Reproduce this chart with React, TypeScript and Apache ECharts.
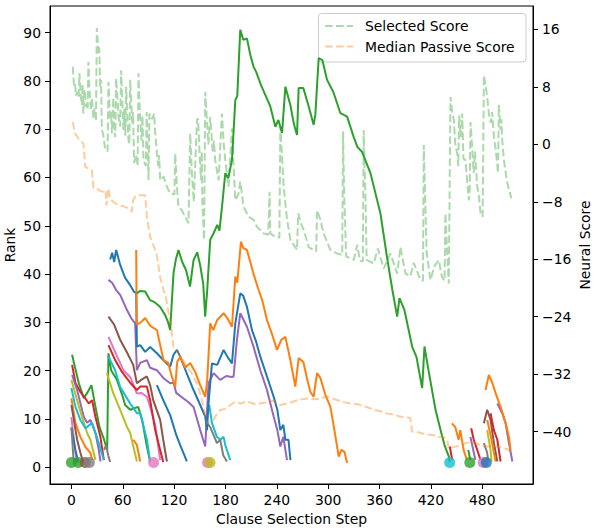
import React, { useEffect, useRef } from "react";
import * as echarts from "echarts";

// ---------- tick labels ----------
const xTicks = [0, 60, 120, 180, 240, 300, 360, 420, 480];
const rankTicks = [0, 10, 20, 30, 40, 50, 60, 70, 80, 90];
const scoreTicks = [-40, -32, -24, -16, -8, 0, 8, 16];

// ---------- neural score series (right axis) ----------
const selectedScore: number[][] = [
  [1.6, 10.8], [3, 8.2], [4.3, 8.5], [5.3, 6.8], [6.3, 7.3], [8.5, 6.5], [9.4, 9.9], [11, 6.6], [12.4, 5.5], [13, 8.4], [14, 4.3], [15, 7.6], [16, 7.0], [17, 5.2], [18, 5.7], [19, 5.0],
  [19.9, 11.5], [21, 8], [22.7, 4.8], [24, 6.5], [25.7, 3.6], [27, 5], [28.7, 3.2], [29.7, 16.2], [31.6, 12.7], [32.5, 13.5], [33.6, 8.0], [34.6, 9], [35.6, 2.0], [37, 1.5], [39.4, -0.6], [42.3, -1],
  [43.3, 8.7], [45.3, 3.4], [46.3, 4.5], [47.3, 1.5], [49, 6.5], [50, 2], [51.3, 1.0], [52.3, 9.2], [54, 6], [55, 3.8], [57, 2.5], [58.1, 10.3], [59.5, 6], [60.8, 2.0], [62, 5], [63, 1.2],
  [64, 8.0], [65.3, 4], [66.7, 0.6], [67.7, 0], [68.7, 9.0], [70, 5.5], [71, 3], [72, 4.5], [73.3, -2.6], [75.5, -1.5], [77.4, -3], [78.4, 9.9], [79.5, 6], [80.4, 3.4], [82, 0.5], [83, 4], [84.2, -2.2],
  [87, -3], [88, 4.5], [89, 0], [90.1, -5.0], [91.2, 4.3], [94, 3.5], [96.7, 4.3], [98, 1.5], [99.9, -1.3], [101.5, -3], [102.5, -1.5], [103.7, -5.0], [107.6, -4.5], [111.6, -5.9],
  [115.4, -6.8], [120.3, -7], [121.3, -1.3], [123.3, -5.9], [125.1, -8.7], [129.1, -9.2], [133, -10.1], [136.8, -11.0], [138.8, 1.5],
  [140.8, -4], [143, -8], [146.7, 3.4], [148, 3.6], [150, -2], [151.5, -5], [152.3, -1], [153, -8], [155, -13.3], [156.4, 7.3], [158, 4], [160, 0], [162.2, 3.8],
  [165, -1], [166.5, 0.5], [168, -2.2], [172, -5], [175.9, 4.3], [178, 0], [179.8, -2.2], [183.6, -5.9], [187.6, 2.2], [189.5, -3], [191.5, -7.8],
  [195, -7], [197.3, -5.2], [201.2, -8.7], [207, -10.1], [212.9, -10.5], [216.8, -11.5], [224.6, -12.4], [230, -12.6], [231.5, -6.6],
  [232.4, -12.4], [238.2, -12.9], [243, -13], [244.1, 2.5], [248, -5.9], [252, -10.5], [255.8, -13.3], [263.6, -14.7], [265, -9.6],
  [268, -11], [271.3, -11.9], [277.2, -14.3], [283, -14.7], [286, -14.9], [287, -9.2], [290.9, -10.5], [294.7, -12.4], [302.5, -14.7],
  [310.4, -15.2], [316.4, -15.4], [317.4, 1.8], [318.2, -4], [319, -8], [321, -15.6], [329.8, -16.1], [334, -14], [337, -16.2], [340.5, -16.3],
  [341.5, 2.0], [342.5, -3], [343.5, -7], [345, -16.1], [353.2, -16.6], [358, -14.5], [364.9, -17.3], [372.7, -15.2], [380.6, -18.0], [384.4, -14.3],
  [390.3, -18.0], [396.1, -18.4], [400, -16.5], [407.8, -18.9], [410.7, -19], [411.7, -0.1], [413, -6], [415, -15], [419.5, -18.9],
  [424, -17], [429.2, -16.1], [433, -18.5], [436, -19], [437, -9.6], [439, -15], [440.9, -19.4], [442.9, 6.6], [444.8, 4.5], [446.8, 3.4],
  [448.5, 0], [450.8, -1.3], [452, -3], [453, 4], [455, 1], [456.6, 4.3], [458, -2], [460.5, -2.2], [462, -4.5], [464.3, -7.8], [465.3, -6.6], [466.3, 3.1], [468, 0],
  [470, -4], [471.5, -1], [474.1, -5.9], [476, -7], [478, -9.6], [480.5, -10.1], [481.9, 9.6], [483.5, 8.5], [485.8, 6.6], [488, 4], [490, 3], [491.5, 4.5], [493.6, 1.1], [496, -1], [498.4, -4],
  [499.4, 5.5], [501.4, 2], [502.4, 3.5], [503.4, 0.5], [505.3, -2.2], [509.2, -5.4], [514, -7.5],
];

const medianPassive: number[][] = [
  [1.6, 3.1], [4.3, 1.5], [8.2, 0.8], [14, 0.1], [15.5, -2], [16, -3.1], [19, -3.3], [23.8, -3.6], [25, -5], [25.7, -6.1], [30, -6.2],
  [33.6, -6.5], [38, -6.6], [40, -6.4], [40.8, -8.5], [42, -7.5], [43.3, -6.1], [45, -7.5], [49, -8], [55, -8.5], [60, -8.6],
  [66.7, -8.9], [70.6, -9.4], [72, -7.8], [74.5, -7.3], [80, -7.1], [86.2, -7.1], [88.2, -10.1], [92, -12.9], [97.9, -14.7],
  [100, -15.6], [103.7, -18.5], [107.6, -20.3], [110, -21], [113.5, -23.5], [116, -25], [119.3, -28.2], [124, -29], [130, -30],
  [135, -31], [140, -31.8], [146.7, -33.3], [150, -34.5], [154.4, -36.5], [158.4, -38.9], [162, -38.6], [166, -38.4], [170, -37.5],
  [173.9, -37], [180, -36.8], [186, -36.3], [192, -35.8], [197.3, -36.1], [205, -35.8], [215, -36.2], [225, -36], [235, -35.7],
  [244, -36.3], [255, -36], [265, -35.6], [275, -35.4], [285, -35.5], [291, -35.4], [298.7, -35.1], [305, -35.4], [310, -35.6],
  [318, -35.9], [326, -36.1], [335, -36.2], [345, -36.6], [355, -37], [362, -37.2], [369, -37.5], [375, -37.6], [384, -37.9],
  [390, -38], [396, -38.1], [398, -40], [405, -40.1], [415, -40.4], [423, -40.5], [430, -40.8], [434, -40.7], [439, -41.2],
  [441, -42.4], [445, -42.2], [452, -42], [458, -41.7], [465, -41.5], [470, -41.6], [476, -41.8], [483, -42.1], [490, -42],
  [496, -42.1], [501, -42.1], [508, -42.4], [514, -42.8],
];

// ---------- rank series (left axis) ----------
const greenMain: number[][] = [
  [76.5, 36.0], [80, 36.5], [86.2, 36.4], [92, 34.6], [97, 34.2], [103.7, 33.2], [109.6, 31.5], [113, 30], [115.4, 28.4],
  [119.3, 40.2], [122, 43], [125.1, 45.0], [129.5, 42.5], [134, 40.8], [138.6, 37.4], [142.7, 42.9], [147, 44.5], [150.4, 41.9],
  [154, 38], [156.3, 31.2], [158.7, 36.7], [162.2, 47.1], [166, 48.4], [170.4, 50.2], [173, 49], [176, 54.0], [179.8, 60.9],
  [183.3, 59.9], [187.6, 63.6], [191.5, 76.0], [193.8, 76.9], [197.3, 90.6], [200.8, 88.5], [205.1, 88.8], [209, 85.4],
  [212.9, 82.9], [216, 81.8], [220.7, 79.5], [226.5, 77.1], [232.4, 74.7], [238.3, 70.5], [241.8, 71.9], [246.1, 69.2],
  [250, 78.8], [255.8, 75.0], [260, 71], [263.6, 68.8], [265.5, 78.5], [271, 78.5], [276.8, 75.0], [283, 70.9], [285, 73],
  [288.9, 84.7], [293.2, 84.3], [298.7, 80.2], [306, 77.7], [314.3, 73.3], [322.1, 72.6], [329.8, 68.4], [334.2, 66.3],
  [339.6, 65.3], [349.4, 60.9], [361, 52.6], [368.9, 43.3], [375, 36.7], [380.6, 31.2], [383.3, 35.0], [389, 32.6], [398.1, 25.0],
  [403.2, 22.8], [409.8, 16.4], [412.5, 25.0], [417.2, 20.1], [425.4, 11.9], [431.3, 7.7], [435.9, 4.6], [441, 2.2], [441.7, 1.1],
];
const greenLeft: number[][] = [
  [0.8, 23.3], [4.3, 20.6], [8.7, 17.4], [14.5, 14.3], [18.4, 15.4], [23.4, 17.0], [28.1, 12.5], [32.7, 8.4], [38.2, 5.7],
  [41.8, 3.6], [43.3, 23.6], [46.4, 20.1], [53.1, 18.1], [59.3, 15.0], [62.8, 12.9], [68.7, 11.9], [78, 12.5], [82.7, 9.8],
  [88.2, 4.3], [92, 1.2],
];
const blueMain: number[][] = [
  [45.3, 43.0], [47.6, 44.4], [50, 42.5], [52.3, 45.0], [57, 41.9], [62.8, 39.2], [68.7, 37.7], [73.3, 36.3], [75.7, 36.1],
  [76.5, 25.0], [80.4, 25.3], [86.2, 23.9], [92, 24.9], [99.9, 23.6], [107.3, 22.2], [115.4, 20.8], [119.3, 23.3], [123.3, 24.3],
  [127.1, 22.9], [134.2, 19.7], [142.7, 16.0], [150.5, 12.9], [156.4, 10.5], [158.4, 7.7], [160.2, 13.2], [164.2, 21.5],
  [170.4, 21.2], [177.8, 24.3], [183.3, 22.6], [187.6, 21.5], [191.5, 29.8], [197.3, 36.0], [200.8, 35.5], [205.1, 33.2],
  [211, 28.4], [216, 25.9], [220.7, 22.9], [228.5, 18.8], [236.3, 14.6], [240.6, 11.9], [244.1, 7.7], [247.6, 8.8], [250, 5.7],
  [253.6, 5.7], [255.9, 1.5],
];
const purpleMain: number[][] = [
  [43.3, 38.8], [47.6, 38.2], [52.3, 36.7], [57, 35.7], [64.8, 32.6], [69.8, 30.9], [74.5, 29.8], [76.5, 20.1], [80.4, 21.6],
  [88.2, 22.2], [92, 20.6], [99.9, 20.1], [107.3, 18.5], [115.4, 17.4], [119.3, 17.5], [122.5, 15.4], [130.6, 14.3], [136.5, 13.5],
  [142.7, 12.5], [150.5, 7.7], [156.4, 4.3], [160.2, 17.4], [166.1, 19.5], [173.9, 18.1], [180.9, 18.9], [187.6, 18.7],
  [189.5, 18.8], [193.4, 26.4], [197.3, 31.9], [205.1, 29.1], [212.5, 25.1], [220.7, 20.1], [228.5, 16.0], [236.3, 10.5],
  [240.6, 7.7], [244.1, 4.3], [247.6, 6.3], [251.9, 1.5],
];
const orangeMain: number[][] = [
  [75.7, 45.0], [76.3, 29.5], [80.4, 29.9], [86.2, 30.9], [92, 29.3], [99.9, 28.4], [103.7, 25.3], [107.6, 22.2], [113.1, 21.6],
  [117.8, 18.5], [121.3, 16.7], [123.6, 21.8], [127.1, 22.9], [133, 20.6], [138.8, 21.6], [144.7, 19.7], [150.5, 17.0],
  [156.4, 14.6], [158.7, 18.1], [162.2, 29.8], [165.7, 28.4], [170.4, 30.5], [177.8, 31.9], [182.1, 30.9], [187.6, 29.1],
  [191.5, 39.5], [193.8, 38.2], [198.1, 46.7], [200.8, 45.4], [205.1, 45.0], [209, 42.5], [212.5, 40.2], [218.7, 36.7],
  [223, 34.6], [228.5, 30.5], [234.7, 27.4], [240.2, 24.3], [245.3, 26.4], [250, 27.0], [255.8, 22.2], [261.6, 16.7],
  [265.5, 22.6], [271, 21.8], [275.6, 18.1], [279.2, 15.6], [283, 14.6], [287, 19.5], [290.9, 18.5], [296.7, 15.0],
  [302.6, 12.5], [307.3, 7.7], [312.3, 2.2], [315.4, 3.6], [319, 3.2], [322.1, 0.9],
];
const redLeft: number[][] = [[0.8, 21.2], [4.7, 17.5], [10.5, 15.6], [14.9, 14.6], [20.4, 13.2], [24.2, 13.9], [28.1, 10.4], [33.9, 6.3], [37.9, 1.5]];
const purpleLeft: number[][] = [[0.8, 19.1], [6.7, 16.0], [14.5, 10.4], [18.4, 9.2], [22.2, 9.8], [28.1, 7.1], [32, 3.6], [34, 1.2]];
const oliveLeft: number[][] = [[0, 18.1], [6.7, 13.9], [12.5, 10.4], [18.4, 7.1], [22.2, 5.7], [28.1, 1.5]];
const cyanLeft: number[][] = [[0, 16.4], [4.7, 12.5], [10.5, 9.8], [16.4, 8.1], [24.2, 9.2], [32, 5.0], [37.9, 1.5]];
const orangeLeft: number[][] = [[0, 14.3], [4.7, 9.2], [10.5, 6.3], [16.4, 4.2], [22.2, 3.0], [24.2, 1.5]];
const brownLeft: number[][] = [[0, 12.9], [6.7, 5.7], [10.5, 3.0], [13.7, 1.1]];
const pinkLeft: number[][] = [[0, 10.4], [4.7, 3.0], [6.7, 1.1]];
const blueLeft: number[][] = [[0, 8.1], [4.7, 3.6], [7.8, 1.1]];
const grayLeft: number[][] = [[0, 8.3], [2.3, 2.1], [4.3, 1.1]];
const grayLeft2: number[][] = [[38.2, 3.6], [40.6, 4.6], [43, 2.5], [45.3, 1.1]];
const brownMid: number[][] = [
  [43.3, 31.2], [50, 29.5], [57, 26.4], [65.1, 23.7], [72.2, 21.2], [76.5, 17.4], [81.5, 18.1], [88.2, 18.8], [92, 17.0],
  [95.6, 13.9], [103.7, 9.8], [107.3, 5.7], [111.6, 1.2],
];
const pinkMid: number[][] = [
  [43.3, 27.0], [50, 24.3], [60.8, 20.1], [68.7, 18.7], [76.5, 15.3], [81.5, 15.4], [88.2, 14.6], [92, 12.5], [97.9, 8.8], [103.7, 1.5],
];
const redMid: number[][] = [
  [43.3, 25.3], [51.1, 22.2], [59.3, 19.7], [68.7, 17.5], [76.5, 16.0], [80.4, 16.7], [88.2, 16.7], [92, 13.9], [97.9, 7.7],
  [103.7, 3.6], [107.3, 1.1],
];
const cyanMid: number[][] = [[43.3, 22.9], [51.1, 20.1], [57, 16.6], [68.7, 13.2], [76.5, 11.2], [80.4, 11.2], [88.2, 5.7], [92, 1.2]];
const oliveMid: number[][] = [[41.4, 19.5], [48.8, 15.4], [57, 11.9], [64.8, 8.4], [68.7, 7.1], [72.5, 4.2], [76.5, 1.2]];
const orangeMid: number[][] = [[72.5, 5.7], [76.5, 4.6], [80.4, 1.2]];
const blueMid: number[][] = [[99.9, 17.0], [107.3, 13.9], [115.4, 10.8], [122.5, 6.7], [127.1, 4.6], [134.9, 1.2]];
const cyanLate: number[][] = [[158.4, 11.9], [161, 12.9], [164.2, 9.2], [170, 6.3], [173.9, 5.7], [177.8, 6.3], [179.8, 4.6], [185.6, 1.5]];
const grayLate: number[][] = [[158.4, 9.2], [162.2, 8.3], [170, 5.0], [173.9, 5.7], [177.4, 2.5], [181.7, 1.2]];
const redEnd1: number[][] = [[442.1, 4.3], [444.9, 1.5]];
const orangeEnd1: number[][] = [[444.6, 9.1], [448.5, 8.3], [452.4, 5.7], [454.4, 7.7], [458.2, 3.6], [462.1, 1.5]];
const greenEnd: number[][] = [[463.7, 3.6], [466, 1.5]];
const redEnd2: number[][] = [[467.1, 8.1], [470.1, 5.7], [474.1, 3.6], [478, 1.5]];
const purpleEnd1: number[][] = [[466.2, 6.3], [472, 1.5]];
const brownEnd: number[][] = [[481.9, 9.1], [485.8, 11.9], [489.7, 9.8], [493.6, 5.0], [497.6, 1.2]];
const redEnd3: number[][] = [[489.7, 11.2], [493.6, 7.7], [497.6, 5.7], [501.4, 1.2]];
const orangeEnd2: number[][] = [[485.8, 9.8], [489.7, 6.7], [495.6, 1.2]];
const oliveEnd: number[][] = [[485.8, 7.7], [489.7, 3.6], [490.9, 1.2]];
const grayEnd: number[][] = [[481.9, 5.0], [485.8, 3.0], [487, 1.2]];
const purpleEnd2: number[][] = [[497.6, 13.2], [503.4, 11.2], [507.3, 9.1], [511.2, 5.0], [515.2, 1.2]];
const orangeEnd3: number[][] = [[483.9, 16.0], [487.7, 19.1], [491.7, 17.5], [495.5, 15.4], [501.4, 12.5], [507.3, 9.2], [511.2, 6.3], [513.1, 3.6]];

// ---------- finished clauses (dots at rank 1) ----------
const dotSteps = [0, 8, 16, 21, 96, 159, 162, 442, 465.5, 481, 484.7];
const dotRank = 1;
const dotColorKeys = ["green", "green", "brown", "gray", "pink", "pink", "olive", "cyan", "green", "pink", "blue"];

const TAB: Record<string, string> = {
  blue: "#1f77b4", orange: "#ff7f0e", green: "#2ca02c", red: "#d62728", purple: "#9467bd",
  brown: "#8c564b", pink: "#e377c2", gray: "#7f7f7f", olive: "#bcbd22", cyan: "#17becf",
};

const rankLines: [number[][], string][] = [
  [greenLeft, "green"], [redLeft, "red"], [purpleLeft, "purple"], [oliveLeft, "olive"], [cyanLeft, "cyan"],
  [orangeLeft, "orange"], [brownLeft, "brown"], [pinkLeft, "pink"], [blueLeft, "blue"], [grayLeft, "gray"], [grayLeft2, "gray"],
  [brownMid, "brown"], [pinkMid, "pink"], [redMid, "red"], [cyanMid, "cyan"], [oliveMid, "olive"], [orangeMid, "orange"],
  [blueMid, "blue"], [cyanLate, "cyan"], [grayLate, "gray"],
  [purpleMain, "purple"], [blueMain, "blue"], [orangeMain, "orange"], [greenMain, "green"],
  [redEnd1, "red"], [orangeEnd1, "orange"], [greenEnd, "green"], [redEnd2, "red"], [purpleEnd1, "purple"],
  [brownEnd, "brown"], [redEnd3, "red"], [orangeEnd2, "orange"], [oliveEnd, "olive"], [grayEnd, "gray"],
  [purpleEnd2, "purple"], [orangeEnd3, "orange"],
];

const FONT = "DejaVu Sans";
const minus = (v: number) => String(v).replace("-", "\u2212");

export default function App() {
  const ref = useRef<HTMLDivElement>(null);
  useEffect(() => {
    if (!ref.current) return;
    const chart = echarts.init(ref.current, undefined, { renderer: "svg" });
    const axisCommon = {
      axisLine: { show: true, onZero: false, lineStyle: { color: "#000", width: 1 } },
      splitLine: { show: false },
      axisLabel: { color: "#000", fontFamily: FONT, fontSize: 13.9, margin: 9 },
      axisTick: { show: true, length: 5, lineStyle: { color: "#000", width: 1 } },
    };
    const series: any[] = rankLines.map(([d, c]) => ({
      type: "line",
      xAxisIndex: 0,
      yAxisIndex: 0,
      data: d,
      showSymbol: false,
      symbol: "none",
      lineStyle: { color: TAB[c], width: 2 },
      z: 2,
    }));
    series.push({
      type: "scatter",
      xAxisIndex: 0,
      yAxisIndex: 0,
      symbolSize: 11,
      data: dotSteps.map((s, i) => ({ value: [s, dotRank], itemStyle: { color: TAB[dotColorKeys[i]] } })),
      z: 3,
    });
    series.push({
      name: "Selected Score",
      type: "line",
      xAxisIndex: 0,
      yAxisIndex: 1,
      data: selectedScore,
      showSymbol: false,
      symbol: "none",
      lineStyle: { color: TAB.green, width: 2, opacity: 0.4, type: [7.7, 3.3] },
      z: 4,
    });
    series.push({
      name: "Median Passive Score",
      type: "line",
      xAxisIndex: 0,
      yAxisIndex: 1,
      data: medianPassive,
      showSymbol: false,
      symbol: "none",
      lineStyle: { color: TAB.orange, width: 2, opacity: 0.4, type: [7.7, 3.3] },
      z: 4,
    });

    chart.setOption({
      animation: false,
      backgroundColor: "#fff",
      grid: {
        left: 50, right: 62, top: 6, bottom: 44,
        containLabel: false,
        outerBoundsMode: "none",
        show: true, borderColor: "#000", borderWidth: 1, backgroundColor: "transparent",
      },
      xAxis: {
        type: "value",
        min: -25,
        max: 539.3,
        name: "Clause Selection Step",
        nameLocation: "middle",
        nameGap: 28,
        nameTextStyle: { color: "#000", fontFamily: FONT, fontSize: 13.9 },
        ...axisCommon,
        axisLabel: { ...axisCommon.axisLabel, customValues: xTicks },
        axisTick: { ...axisCommon.axisTick, customValues: xTicks },
      },
      yAxis: [
        {
          type: "value",
          position: "left",
          min: -3.46,
          max: 95.5,
          name: "Rank",
          nameLocation: "middle",
          nameGap: 33,
          nameRotate: 90,
          nameMoveOverlap: false,
          nameTextStyle: { color: "#000", fontFamily: FONT, fontSize: 13.9 },
          ...axisCommon,
          axisLabel: { ...axisCommon.axisLabel, customValues: rankTicks },
          axisTick: { ...axisCommon.axisTick, customValues: rankTicks },
        },
        {
          type: "value",
          position: "right",
          min: -47.3,
          max: 19.26,
          name: "Neural Score",
          nameLocation: "middle",
          nameGap: 45,
          nameRotate: 90,
          nameMoveOverlap: false,
          nameTextStyle: { color: "#000", fontFamily: FONT, fontSize: 13.9 },
          ...axisCommon,
          axisLabel: { ...axisCommon.axisLabel, customValues: scoreTicks, formatter: (v: number) => minus(v) },
          axisTick: { ...axisCommon.axisTick, customValues: scoreTicks },
        },
      ],
      series,
      graphic: [
        {
          type: "group",
          z: 100,
          children: [
            {
              type: "rect",
              shape: { x: 318.5, y: 13.5, width: 207.5, height: 48.5, r: 3 },
              style: { fill: "rgba(255,255,255,0.8)", stroke: "#cccccc", lineWidth: 1 },
            },
            {
              type: "line",
              shape: { x1: 325, y1: 26, x2: 353, y2: 26 },
              style: { stroke: TAB.green, opacity: 0.4, lineWidth: 2, lineDash: [7.7, 3.3] },
            },
            {
              type: "text",
              x: 365,
              y: 26,
              style: { text: "Selected Score", fill: "#000", fontFamily: FONT, fontSize: 13.9, verticalAlign: "middle", align: "left" },
            },
            {
              type: "line",
              shape: { x1: 325, y1: 46.5, x2: 353, y2: 46.5 },
              style: { stroke: TAB.orange, opacity: 0.4, lineWidth: 2, lineDash: [7.7, 3.3] },
            },
            {
              type: "text",
              x: 365,
              y: 46.5,
              style: { text: "Median Passive Score", fill: "#000", fontFamily: FONT, fontSize: 13.9, verticalAlign: "middle", align: "left" },
            },
          ],
        },
      ],
    });
    return () => chart.dispose();
  }, []);
  return (
    <div
      ref={ref}
      style={{ position: "fixed", left: 0, top: 0, width: 595, height: 528, background: "#fff" }}
    />
  );
}
